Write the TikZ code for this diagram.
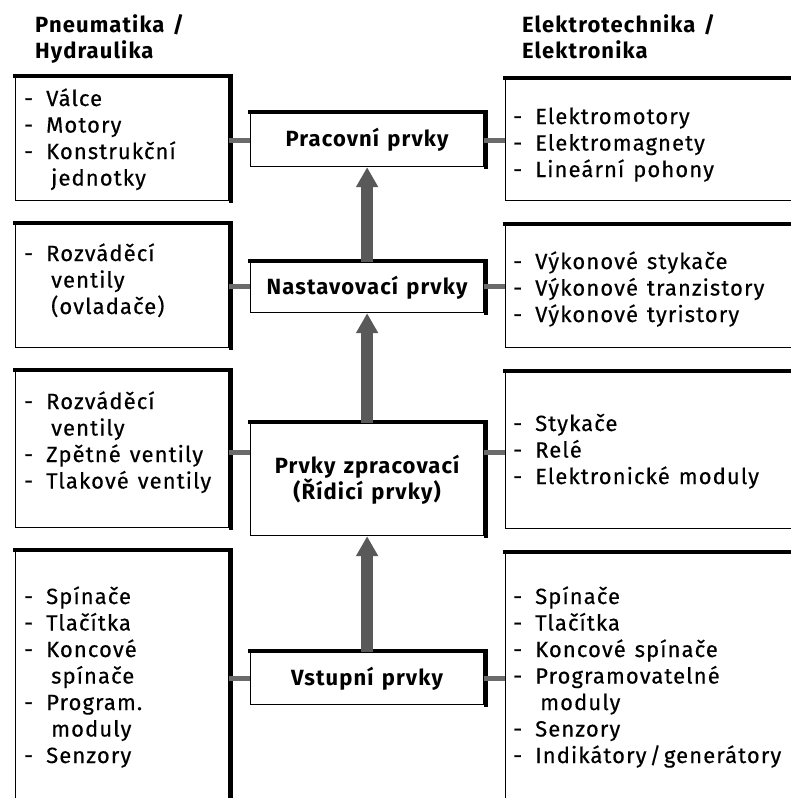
\documentclass[tikz,border=0pt]{standalone}
\usepackage{fontspec}
\setmainfont{Fira Sans}[LetterSpace=5,WordSpace=1.3,UprightFeatures={FakeBold=0.4}]
\usetikzlibrary{arrows.meta}
\definecolor{SpojClr}{gray}{0.42}
\definecolor{SipkaClr}{gray}{0.35}
\newcommand{\pol}{\makebox[22pt][l]{-}}
\newcommand{\dal}{\hspace*{27pt}}

\tikzset{
  blok/.style={draw=black,fill=white,line width=1.2pt,inner sep=0pt,anchor=north west},
  okraj/.style={draw=black,line width=4pt,line cap=rect},
  prvek/.style={blok,font=\bfseries,align=center,minimum width=233pt},
  seznam/.style={anchor=base west,inner sep=0pt},
  nadpis/.style={seznam,font=\bfseries},
  spoj/.style={line width=5pt,draw=SpojClr},
  sipka/.style={line width=12pt,draw=SipkaClr,-{Triangle[width=21pt,length=20pt]}}
}

\begin{document}
\fontsize{22}{26.5}\selectfont
\begin{tikzpicture}[x=1pt,y=-1pt]
\useasboundingbox (0,0) rectangle (791,798);
\clip (0,0) rectangle (791,798);

\node[nadpis] (hl) at (35,32) {\parbox[t]{200pt}{Pneumatika /\\ Hydraulika}};
\node[nadpis] (hr) at (522,32) {\parbox[t]{260pt}{Elektrotechnika /\\ Elektronika}};

% pneumatika
\node[blok,minimum width=213pt,minimum height=123pt] (l1) at (15,77) {};
\node[blok,minimum width=213pt,minimum height=123pt] (l2) at (15,224) {};
\node[blok,minimum width=213pt,minimum height=156pt] (l3) at (15,371) {};
\node[blok,minimum width=213pt,minimum height=280pt] (l4) at (15,551) {};

% elektro
\node[blok,minimum width=320pt,minimum height=121pt] (r1) at (505,79) {};
\node[blok,minimum width=320pt,minimum height=122pt] (r2) at (505,225) {};
\node[blok,minimum width=320pt,minimum height=156pt] (r3) at (505,372) {};
\node[blok,minimum width=320pt,minimum height=280pt] (r4) at (505,553) {};

% prvky
\node[prvek,minimum height=53pt] (c1) at (250,113) {Pracovní prvky};
\node[prvek,minimum height=50pt] (c2) at (250,262) {Nastavovací prvky};
\node[prvek,minimum height=112pt] (c3) at (250,423) {Prvky zpracovací\\(Řídicí prvky)};
\node[prvek,minimum height=52pt] (c4) at (250,652) {Vstupní prvky};

\foreach \n in {l1,l2,l3,l4,r1,r2,r3,r4,c1,c2,c3,c4}
  \path[okraj] ([shift={(0,-1.5)}]\n.north west) -- ([shift={(1.5,-1.5)}]\n.north east) -- ([shift={(1.5,0)}]\n.south east);

\coordinate (s1) at (240,140);
\coordinate (s2) at (240,286);
\coordinate (s3) at (240,452);
\coordinate (s4) at (240,678);

\foreach \i in {1,...,4}{
  \draw[spoj] (l\i.east |- s\i) -- (c\i.west |- s\i);
  \draw[spoj] (c\i.east |- s\i) -- (r\i.west |- s\i);
}

\draw[sipka] (c2.north) -- (c1.south);
\draw[sipka] (c3.north) -- (c2.south);
\draw[sipka] (c4.north) -- (c3.south);

\node[seznam] (tl1) at (24,106) {\parbox[t]{200pt}{\pol Válce\\ \pol Motory\\ \pol Konstrukční\\ \dal jednotky}};
\node[seznam] (tl2) at (24,261) {\parbox[t]{200pt}{\pol Rozváděcí\\ \dal ventily\\ \dal (ovladače)}};
\node[seznam] (tl3) at (24,409) {\parbox[t]{200pt}{\pol Rozváděcí\\ \dal ventily\\ \pol Zpětné ventily\\ \pol Tlakové ventily}};
\node[seznam] (tl4) at (24,604) {\parbox[t]{200pt}{\pol Spínače\\ \pol Tlačítka\\ \pol Koncové\\ \dal spínače\\ \pol Program.\\ \dal moduly\\ \pol Senzory}};

\node[seznam] (tr1) at (513,124) {\parbox[t]{280pt}{\pol Elektromotory\\ \pol Elektromagnety\\ \pol Lineární pohony}};
\node[seznam] (tr2) at (513,269) {\parbox[t]{280pt}{\pol Výkonové stykače\\ \pol Výkonové tranzistory\\ \pol Výkonové tyristory}};
\node[seznam] (tr3) at (513,431) {\parbox[t]{280pt}{\pol Stykače\\ \pol Relé\\ \pol Elektronické moduly}};
\node[seznam] (tr4) at (513,604) {\parbox[t]{280pt}{\pol Spínače\\ \pol Tlačítka\\ \pol Koncové spínače\\ \pol Programovatelné\\ \dal moduly\\ \pol Senzory\\ \pol Indikátory\hspace{3pt}/\hspace{3pt}generátory}};

\end{tikzpicture}
\end{document}
